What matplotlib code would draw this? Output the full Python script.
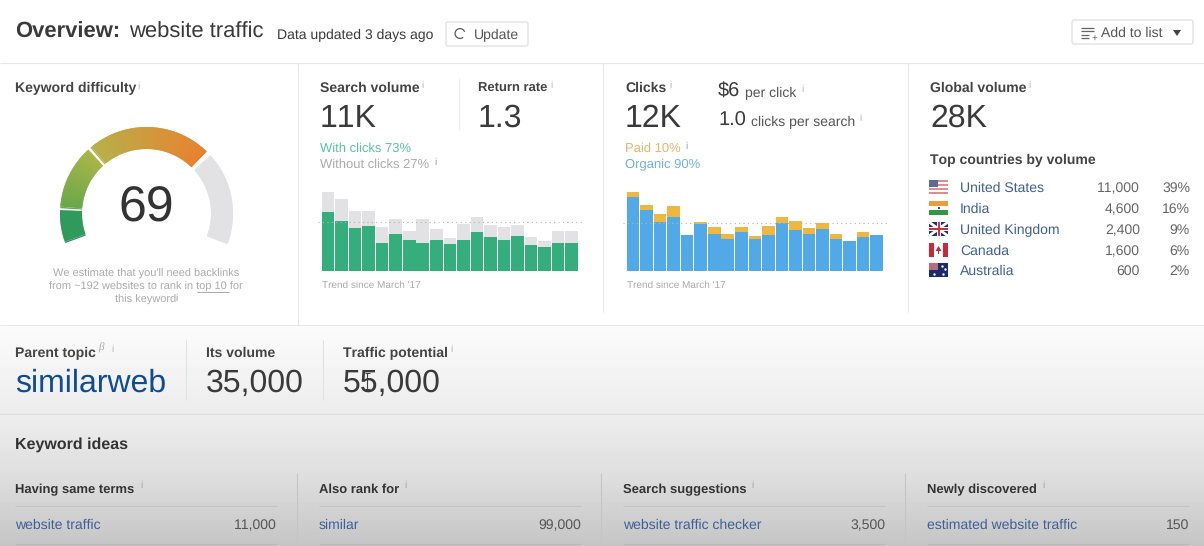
import matplotlib
matplotlib.use('Agg')
import matplotlib.pyplot as plt
import numpy as np
from matplotlib.colors import to_rgb
from matplotlib.patches import FancyBboxPatch, Polygon, Rectangle, Wedge

plt.rcParams['font.family'] = ['Liberation Sans', 'DejaVu Sans']
plt.rcParams['text.hinting'] = 'none'
plt.rcParams['text.hinting_factor'] = 1
# the "11" pair kerns far too tight in this font
plt.rcParams['text.kerning_factor'] = 10

W, H = 1204, 546

# bar values
search_with_clicks = [59, 50, 43, 45, 27.3, 37, 30.3, 27.3, 31, 26.3, 31, 39, 34, 31, 35, 25.3, 23.3, 27.3, 27.3]
search_total = [78.7, 71.7, 59.7, 59.7, 44, 51.7, 40, 51.7, 42, 32.3, 47, 54, 46, 44, 46, 33.3, 29.3, 40, 40]
search_avg = 48.7

clicks_organic = [74, 61, 49, 54, 35.3, 47, 37, 31.3, 39, 31.3, 35.3, 48, 40.3, 37, 41.3, 31.3, 29.3, 33.3, 35.3]
clicks_total = [78.7, 66, 57, 65, 35.3, 49, 44, 37, 44, 35, 45, 54, 50, 43, 48, 36.3, 29.3, 39, 35.3]
clicks_avg = 47.7

countries = ['United States', 'India', 'United Kingdom', 'Canada', 'Australia']
country_volumes = ['11,000', '4,600', '2,400', '1,600', '600']
country_shares = ['39%', '16%', '9%', '6%', '2%']

idea_titles = ['Having same terms', 'Also rank for', 'Search suggestions', 'Newly discovered']
idea_keywords = ['website traffic', 'similar', 'website traffic checker', 'estimated website traffic']
idea_volumes = ['11,000', '99,000', '3,500', '150']

DARK = '#3a3a3a'
HEAD = '#444444'
GREY = '#ababab'
LINK = '#3f5f98'
LINE = '#e8e8e8'


fig = plt.figure(figsize=(W / 100, H / 100), dpi=100)
page = fig.add_axes([0, 0, 1, 1])
page.set_xlim(0, W)
page.set_ylim(H, 0)
page.axis('off')


def text(x, y, s, px, color=DARK, weight='normal', ha='left', **kw):
    return page.text(x, y, s, fontsize=px * 0.72, color=color, fontweight=weight,
                     ha=ha, va='baseline', **kw)


def info(x, y, color='#b5b5b5'):
    text(x, y, 'i', 10, color=color, ha='center')


def hline(y, x0=0, x1=W, color=LINE, lw=0.8):
    page.plot([x0, x1], [y, y], color=color, lw=lw, solid_capstyle='butt')


def vline(x, y0, y1, color=LINE, lw=0.8):
    page.plot([x, x], [y0, y1], color=color, lw=lw, solid_capstyle='butt')


def button(x0, y0, x1, y1):
    page.add_patch(FancyBboxPatch((x0, y0), x1 - x0, y1 - y0, boxstyle='round,pad=0,rounding_size=2',
                                  fc='white', ec='#e0e0e0', lw=0.9))


# background of the lower part
grad_y = np.array([326, 414, 415, 480, 546])
grad_v = np.array([0.985, 0.925, 0.93, 0.865, 0.77])
ys = np.arange(326, 546)
grad = np.interp(ys, grad_y, grad_v)[:, None]
page.imshow(grad, extent=[0, W, 546, 326], cmap='gray', vmin=0, vmax=1, aspect='auto', zorder=0)
page.set_xlim(0, W)
page.set_ylim(H, 0)

# header
text(15, 38, 'Overview:', 22, weight='bold')
text(129, 38, 'website traffic', 22)
text(277, 39, 'Data updated 3 days ago', 14)
button(446, 22, 528, 46)
page.add_patch(Wedge((460, 33.5), 5.5, 50, 340, width=1.2, fc='#555555', ec='none'))
text(474, 39, 'Update', 14, color='#555555')
button(1072, 20, 1193, 44)
for i, yy in enumerate([27.5, 31, 34.5, 38]):
    hline(yy, 1081, 1094 if i < 2 else 1089, color='#666666', lw=0.9)
text(1092, 41, '+', 10, color='#666666')
text(1101, 37, 'Add to list', 14, color='#555555')
page.add_patch(Polygon([[1173, 30], [1181, 30], [1177, 36]], fc='#444444', ec='none'))

# panel rules
hline(63)
hline(325)
hline(414, color='#dddddd')
vline(298, 63, 325)
vline(603, 63, 312)
vline(908, 63, 312)

# keyword difficulty
text(15, 92, 'Keyword difficulty', 13.8, color=HEAD, weight='bold')
info(138, 89)


def arc(a0, a1, c0, c1, cx=146.5, cy=213.5, r=86.5, w=22):
    # a1 > a0, c0 at a0 and c1 at a1
    steps = max(2, int(a1 - a0))
    c0, c1 = np.array(to_rgb(c0)), np.array(to_rgb(c1))
    edges = np.linspace(a0, a1, steps + 1)
    for k in range(steps):
        col = c0 + (c1 - c0) * k / (steps - 1)
        # y axis points down on the page, so angles are mirrored
        over = 0.8 if k < steps - 1 else 0
        page.add_patch(Wedge((cx, cy), r, -edges[k + 1], -edges[k] + over, width=w, fc=col, ec=col, lw=0))


arc(178.5, 200, '#2f9a5c', '#2f9a5c')
arc(133, 176.5, '#a9b548', '#6aa84a')
arc(46.5, 130.5, '#e9822f', '#b7b049')
arc(-20, 42.5, '#e2e2e4', '#e2e2e4')
text(146, 222, '69', 50, ha='center', color='#333333')
for yy, line in zip([277, 290, 303], ["We estimate that you'll need backlinks",
                                      'from ~192 websites to rank in top 10 for',
                                      'this keyword']):
    text(146, yy, line, 11, color=GREY, ha='center')
hline(291.5, 197, 229, color=GREY, lw=0.7)
info(176, 301, color='#999999')

# search volume
text(320, 92, 'Search volume', 13.7, color=HEAD, weight='bold')
info(422, 88)
vline(459, 78, 130, color='#eeeeee')
text(478, 92, 'Return rate', 13.1, color=HEAD, weight='bold')
info(551, 88)
text(320, 127, '11K', 32)
text(478, 127, '1.3', 32)
text(320, 152, 'With clicks 73%', 13, color='#5cc0a0')
text(320, 168, 'Without clicks 27%', 13, color=GREY)
info(435, 165, color='#999999')
text(322, 288, "Trend since March '17", 10.5, color=GREY)

# clicks
text(625, 92, 'Clicks', 13.6, color=HEAD, weight='bold')
info(670, 88)
text(625, 127, '12K', 32)
text(718, 97, '$6', 20)
text(745, 97, 'per click', 14, color='#555555')
info(802, 92)
text(718, 126, '1.0', 20)
text(751, 126, 'clicks per search', 14, color='#555555')
info(860, 121)
text(625, 152, 'Paid 10%', 13, color='#e9b26a')
info(686, 149, color='#999999')
text(625, 168, 'Organic 90%', 13, color='#6fb0e0')
text(627, 288, "Trend since March '17", 10.5, color=GREY)


def trend_bars(x0, lower, total, avg, low_color, top_color):
    # axes run past the bars on each side for the dotted line
    step = 13.53
    ax = fig.add_axes([(x0 - 3) / W, 1 - 270.5 / H, (step * 19 + 9) / W, 90 / H])
    ax.set_xlim(-0.5 - 3 / step, 18.5 + 6 / step)
    ax.set_ylim(0, 90)
    ax.axis('off')
    ax.patch.set_alpha(0)
    xs = np.arange(len(total))
    ax.bar(xs, total, width=0.93, color=top_color, zorder=1)
    ax.bar(xs, lower, width=0.93, color=low_color, zorder=2)
    ax.axhline(avg, color='#b5b5b5', lw=0.8, ls=(0, (1, 3)), zorder=3)


trend_bars(321.3, search_with_clicks, search_total, search_avg, '#34ae7d', '#e2e2e4')
trend_bars(626.3, clicks_organic, clicks_total, clicks_avg, '#52a9e8', '#efb73e')

# global volume
text(930, 92, 'Global volume', 13.8, color=HEAD, weight='bold')
info(1029, 88)
text(930, 127, '28K', 32)
text(930, 164, 'Top countries by volume', 13.5, color=HEAD, weight='bold')


def flag(name, x, y):
    w, h = 19, 14
    page.add_patch(Rectangle((x, y), w, h, fc='white', ec='none', zorder=2))
    if name == 'United States':
        for k in range(0, 7, 2):
            page.add_patch(Rectangle((x, y + k * 2), w, 2, fc='#dc8f8f', ec='none', zorder=3))
        page.add_patch(Rectangle((x, y), 9, 7, fc='#5f6b94', ec='none', zorder=4))
    elif name == 'India':
        page.add_patch(Rectangle((x, y), w, 4.7, fc='#ef9a3d', ec='none', zorder=3))
        page.add_patch(Rectangle((x, y + 9.3), w, 4.7, fc='#2f9a3c', ec='none', zorder=3))
        page.add_patch(Rectangle((x + 8.5, y + 6), 2, 2, fc='#35507f', ec='none', zorder=3))
    elif name == 'United Kingdom':
        page.add_patch(Rectangle((x, y), w, h, fc='#1c2f6e', ec='none', zorder=3))
        page.plot([x, x + w], [y, y + h], color='white', lw=2, zorder=4, solid_capstyle='butt')
        page.plot([x, x + w], [y + h, y], color='white', lw=2, zorder=4, solid_capstyle='butt')
        page.add_patch(Rectangle((x, y + 5), w, 4, fc='white', ec='none', zorder=5))
        page.add_patch(Rectangle((x + 7.5, y), 4, h, fc='white', ec='none', zorder=5))
        page.add_patch(Rectangle((x, y + 6), w, 2, fc='#d3313f', ec='none', zorder=6))
        page.add_patch(Rectangle((x + 8.5, y), 2, h, fc='#d3313f', ec='none', zorder=6))
    elif name == 'Canada':
        page.add_patch(Rectangle((x, y), 5, h, fc='#c8283a', ec='none', zorder=3))
        page.add_patch(Rectangle((x + 14, y), 5, h, fc='#c8283a', ec='none', zorder=3))
        page.add_patch(Polygon([[x + 9.5, y + 3], [x + 12.5, y + 8], [x + 10, y + 8],
                                [x + 10, y + 11], [x + 9, y + 11], [x + 9, y + 8], [x + 6.5, y + 8]],
                               fc='#c8283a', ec='none', zorder=3))
    else:
        page.add_patch(Rectangle((x, y), w, h, fc='#1a2a6c', ec='none', zorder=3))
        page.add_patch(Rectangle((x, y), 9, 6.5, fc='#b86a7e', ec='none', zorder=4))
        page.scatter([x + 13, x + 16, x + 14, x + 5], [y + 3, y + 6, y + 11, y + 10.5], s=3, color='white', zorder=5,
                     linewidths=0)


for yy, name, vol, share in zip([192, 213, 234, 255, 275], countries, country_volumes, country_shares):
    flag(name, 929, yy - 12)
    text(960, yy, name, 14, color=LINK)
    text(1140, yy, vol, 14, color='#666666', ha='right')
    text(1190, yy, share, 14, color='#666666', ha='right')

# parent topic row
text(15, 357, 'Parent topic', 13.9, color=HEAD, weight='bold')
text(98, 351, 'β', 11, color='#aaaaaa', style='italic', family=['Liberation Serif', 'DejaVu Serif'])
info(112, 352)
text(15, 392, 'similarweb', 32, color='#0f4c96')
vline(186, 340, 400, color='#e2e2e2')
text(206, 357, 'Its volume', 13.9, color=HEAD, weight='bold')
text(206, 392, '35,000', 32)
vline(323, 340, 400, color='#e2e2e2')
text(343, 357, 'Traffic potential', 13.7, color=HEAD, weight='bold')
info(451, 352)
text(343, 392, '55,000', 32)
# mouse cursor sitting on the number
vline(367, 373, 389, color='#444444', lw=0.8)
hline(373, 364.5, 369.5, color='#444444', lw=0.8)
hline(389, 364.5, 369.5, color='#444444', lw=0.8)

# keyword ideas
text(15, 449, 'Keyword ideas', 15.9, color='#333333', weight='bold')
col_x = [15, 319, 623, 927]
col_right = [277, 581, 885, 1189]
info_x = [141, 405, 752, 1043]
for i in range(4):
    text(col_x[i], 493, idea_titles[i], 12.5, color='#333333', weight='bold')
    info(info_x[i], 488, color='#a5a5a5')
    hline(506, col_x[i], col_right[i], color='#c4c4c4')
    text(col_x[i], 529, idea_keywords[i], 14, color=LINK)
    text(col_right[i], 529, idea_volumes[i], 14, color='#555555', ha='right')
    hline(543.5, col_x[i], col_right[i], color='#b8b8b8')
for x in [297, 601, 905]:
    vline(x, 473, 546, color='#c5c5c5')

fig.savefig('out.png', dpi=100)
